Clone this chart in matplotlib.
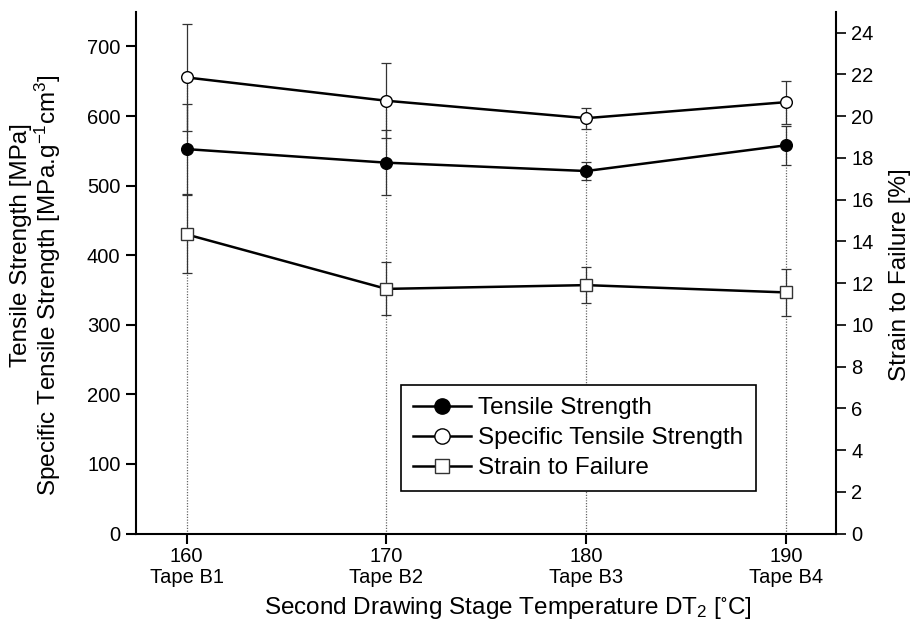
import matplotlib
matplotlib.use("Agg")
import matplotlib.pyplot as plt
from matplotlib.lines import Line2D

plt.rcParams['font.family'] = ['Liberation Sans', 'DejaVu Sans']
plt.rcParams['mathtext.fontset'] = 'custom'
plt.rcParams['mathtext.rm'] = 'Liberation Sans'
plt.rcParams['mathtext.it'] = 'Liberation Sans'
plt.rcParams['mathtext.default'] = 'regular'

temps = [160, 170, 180, 190]
tapes = ["Tape B1", "Tape B2", "Tape B3", "Tape B4"]
tensile = [552.5, 533, 521, 558]
tensile_err = [65, 47, 13, 28]
specific = [655.5, 622, 597, 620]
specific_err = [77, 54, 15, 31]
strain = [14.33, 11.72, 11.90, 11.55]
strain_err = [1.87, 1.27, 0.87, 1.14]

W, H = 912, 644
fig = plt.figure(figsize=(W / 100, H / 100), dpi=100)
L, R, B, T = 135.7, 836, 533.5, 11.7
ax = fig.add_axes([L / W, 1 - B / H, (R - L) / W, (B - T) / H])
ax2 = ax.twinx()

ax.set_xlim(157.45, 192.5)
ax.set_ylim(0, 750)
ax2.set_ylim(0, 25)

# dotted drop lines
ax.vlines(temps, 0, specific, colors='#666666', linestyles=(0, (1, 1.2)), linewidth=0.9, zorder=1)

ekw = dict(ecolor='#333333', elinewidth=0.9, capsize=3.5, capthick=0.9, zorder=2)
ax.errorbar(temps, tensile, yerr=tensile_err, fmt='none', **ekw)
ax.errorbar(temps, specific, yerr=specific_err, fmt='none', **ekw)
ax2.errorbar(temps, strain, yerr=strain_err, fmt='none', **ekw)

ax.plot(temps, tensile, '-o', color='black', lw=1.8, ms=8.4, mfc='black', mec='black', zorder=3)
ax.plot(temps, specific, '-o', color='black', lw=1.8, ms=8.4, mfc='white', mec='black', mew=1.0, zorder=3)
ax2.plot(temps, strain, '-s', color='black', lw=1.8, ms=8, mfc='white', mec='#333333', mew=1.0, zorder=3)

for s in ['top', 'right']:
    ax.spines[s].set_visible(False)
for s in ['top', 'left', 'bottom']:
    ax2.spines[s].set_visible(False)
for sp in [ax.spines['left'], ax.spines['bottom'], ax2.spines['right']]:
    sp.set_linewidth(1.5)

fs = 14.5
lfs = 17.5
ax.set_xticks(temps)
ax.set_xticklabels([f"{t}\n{n}" for t, n in zip(temps, tapes)], fontsize=fs, linespacing=1.1)
ax.set_yticks(range(0, 701, 100))
ax.tick_params(axis='y', labelsize=fs, length=7, width=1.5, direction='out', pad=4)
ax.tick_params(axis='x', length=7, width=1.5, direction='out', pad=3)
ax2.set_yticks(range(0, 25, 2))
ax2.tick_params(axis='y', labelsize=fs, length=7, width=1.2, direction='out', pad=4)

fig.text(21 / W, 1 - 245 / H, "Tensile Strength [MPa]", rotation=90, ha='center', va='center', fontsize=lfs)
fig.text(48 / W, 1 - 285 / H, "Specific Tensile Strength [MPa.g$^{-1}$cm$^{3}$]", rotation=90, ha='center', va='center', fontsize=lfs)
fig.text(900 / W, 1 - 275 / H, "Strain to Failure [%]", rotation=90, ha='center', va='center', fontsize=lfs)
fig.text(508 / W, 1 - 608 / H, "Second Drawing Stage Temperature DT$_{2}$ [$^{\\circ}$C]", ha='center', va='center', fontsize=lfs)

handles = [
    Line2D([], [], color='black', lw=1.8, marker='o', ms=11, mfc='black', mec='black'),
    Line2D([], [], color='black', lw=1.8, marker='o', ms=11, mfc='white', mec='black'),
    Line2D([], [], color='black', lw=1.8, marker='s', ms=10, mfc='white', mec='#333333'),
]
labels = ["Tensile Strength", "Specific Tensile Strength", "Strain to Failure"]
leg = ax2.legend(handles, labels, loc='upper left', bbox_to_anchor=(0.3784, 0.2846), borderaxespad=0,
                 fontsize=lfs, frameon=True, fancybox=False, edgecolor='black', framealpha=1,
                 handlelength=2.4, handletextpad=0.3, labelspacing=0.33, borderpad=0.5)
leg.get_frame().set_linewidth(1.2)

fig.savefig("out.png", dpi=100)
